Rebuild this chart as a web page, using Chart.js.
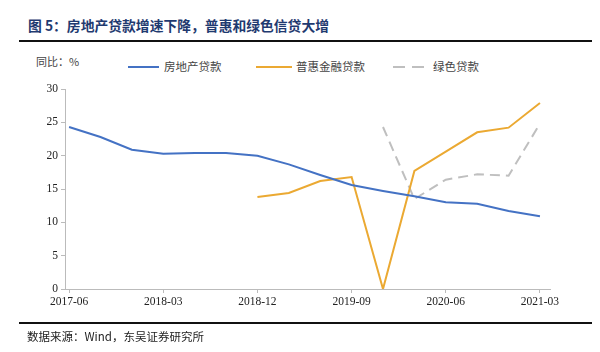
<!DOCTYPE html>
<html>
<head>
<meta charset="utf-8">
<script src="https://cdn.jsdelivr.net/npm/chart.js@4/dist/chart.umd.min.js"></script>
<style>
  body { margin: 0; background: #fff; }
  #wrap { position: relative; width: 600px; height: 352px; overflow: hidden; font-family: "Noto Sans CJK SC", sans-serif; }
  #chart { position: absolute; left: 0; top: 0; }
  .title { position: absolute; left: 28px; top: 15px; font-size: 13.8px; font-weight: bold; color: #1f3a70; white-space: nowrap; }
  .rule { position: absolute; left: 19px; width: 573px; height: 2px; background: #111; }
  .src { position: absolute; left: 27px; top: 328px; font-size: 11.5px; color: #222; white-space: nowrap; }
  .unit { position: absolute; left: 36px; top: 53px; font-size: 11px; color: #444; white-space: nowrap; }
  .leg { position: absolute; top: 58px; font-size: 11.5px; color: #444; white-space: nowrap; }
  .sw { position: absolute; top: 66px; height: 2px; }
</style>
</head>
<body>
<div id="wrap">
  <div class="title">图 5：房地产贷款增速下降，普惠和绿色信贷大增</div>
  <div class="rule" style="top:40px"></div>
  <div class="unit">同比：%</div>
  <div class="sw" style="left:128px;width:31px;background:#4472c4"></div>
  <div class="leg" style="left:164px">房地产贷款</div>
  <div class="sw" style="left:256px;width:36px;background:#eba932"></div>
  <div class="leg" style="left:296px">普惠金融贷款</div>
  <div class="sw" style="left:393px;width:31px;background:linear-gradient(to right,#bfbfbf 0 12px,transparent 12px 19px,#bfbfbf 19px 31px)"></div>
  <div class="leg" style="left:433px">绿色贷款</div>
  <canvas id="chart" width="600" height="352"></canvas>
  <div class="rule" style="top:322px"></div>
  <div class="src">数据来源：Wind，东吴证券研究所</div>
</div>
<script>
const quarters = ["2017-06", "2017-09", "2017-12", "2018-03", "2018-06", "2018-09", "2018-12", "2019-03",
  "2019-06", "2019-09", "2019-12", "2020-03", "2020-06", "2020-09", "2020-12", "2021-03"];
const realEstate = [24.3, 22.8, 20.9, 20.3, 20.4, 20.4, 20.0, 18.7, 17.1, 15.6, 14.7, 13.9, 13.0, 12.8, 11.7, 10.9];
const inclusive = [null, null, null, null, null, null, 13.8, 14.4, 16.2, 16.8, 0, 17.7, 20.6, 23.5, 24.2, 27.9];
const green = [null, null, null, null, null, null, null, null, null, null, 24.3, 13.5, 16.4, 17.2, 17.0, 24.8];
const xTicks = [0, 3, 6, 9, 12, 15];
const yTicks = [0, 5, 10, 15, 20, 25, 30];

const toPoints = (arr) => arr.map((v, i) => ({ x: i, y: v }));
const tickFont = { family: "'Liberation Serif', 'Times New Roman', serif", size: 11.5 };

new Chart(document.getElementById("chart"), {
  type: "line",
  data: {
    datasets: [
      { label: "房地产贷款", data: toPoints(realEstate), borderColor: "#4472c4", borderWidth: 2 },
      { label: "普惠金融贷款", data: toPoints(inclusive), borderColor: "#eba932", borderWidth: 2 },
      { label: "绿色贷款", data: toPoints(green), borderColor: "#bfbfbf", borderWidth: 2, borderDash: [10, 6] }
    ]
  },
  options: {
    responsive: false,
    animation: false,
    elements: { point: { radius: 0 }, line: { tension: 0 } },
    layout: { padding: { top: 89, right: 50, left: 0, bottom: 0 } },
    plugins: { legend: { display: false }, tooltip: { enabled: false } },
    scales: {
      x: {
        type: "linear",
        min: -0.13,
        max: 15.32,
        afterBuildTicks: (s) => { s.ticks = xTicks.map((v) => ({ value: v })); },
        afterFit: (s) => { s.height = 63; },
        ticks: { callback: (v) => quarters[v], font: tickFont, color: "#222", padding: 2, maxRotation: 0 },
        grid: { drawOnChartArea: false, tickLength: 4, color: "#bbb" },
        border: { color: "#bbb" }
      },
      y: {
        min: 0,
        max: 30,
        afterBuildTicks: (s) => { s.ticks = yTicks.map((v) => ({ value: v })); },
        afterFit: (s) => { s.width = 65; },
        ticks: { font: tickFont, color: "#222", padding: 3 },
        grid: { drawOnChartArea: false, tickLength: 4, color: "#bbb" },
        border: { color: "#bbb" }
      }
    }
  }
});
</script>
</body>
</html>
